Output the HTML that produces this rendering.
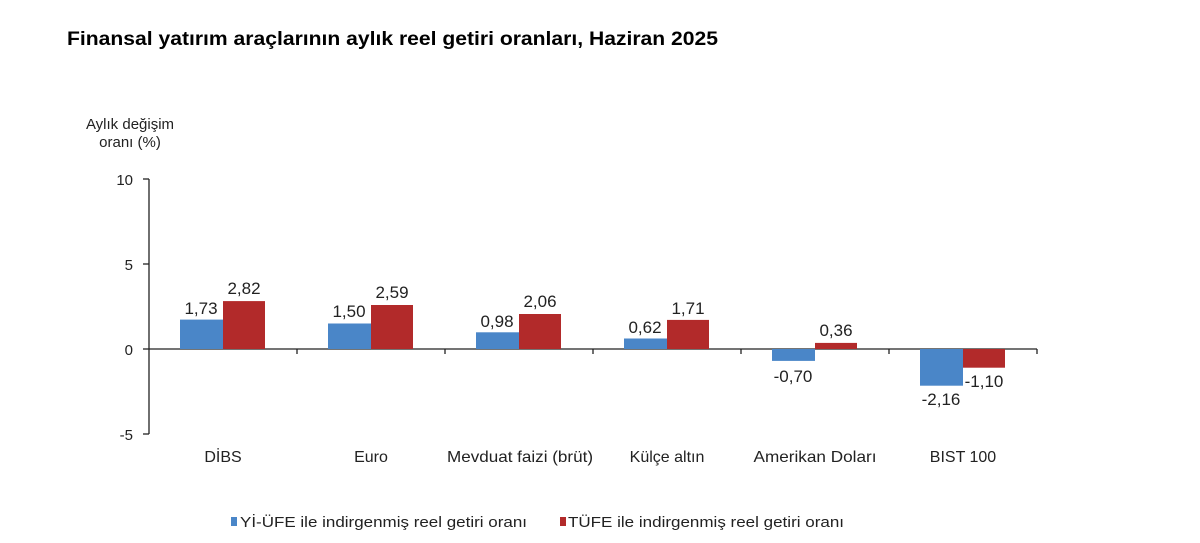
<!DOCTYPE html>
<html><head><meta charset="utf-8"><style>
html,body{margin:0;padding:0;background:#fff;width:1200px;height:543px;overflow:hidden}
svg text{font-family:"Liberation Sans",Arial,sans-serif}
</style></head><body>
<svg width="1200" height="543" xmlns="http://www.w3.org/2000/svg">
<text x="67" y="45" font-size="19" font-weight="bold" fill="#000" textLength="651" lengthAdjust="spacingAndGlyphs">Finansal yatırım araçlarının aylık reel getiri oranları, Haziran 2025</text>
<text x="130" y="129" font-size="15" fill="#222" text-anchor="middle">Aylık değişim</text>
<text x="130" y="147" font-size="15" fill="#222" text-anchor="middle">oranı (%)</text>
<g stroke="#222" stroke-width="1.3" fill="none">
<line x1="149" y1="179" x2="149" y2="434"/>
<line x1="143" y1="179" x2="149" y2="179"/>
<line x1="143" y1="264" x2="149" y2="264"/>
<line x1="143" y1="349" x2="149" y2="349"/>
<line x1="143" y1="434" x2="149" y2="434"/>
<line x1="149" y1="349" x2="1037" y2="349"/>
<line x1="297" y1="349" x2="297" y2="354"/>
<line x1="445" y1="349" x2="445" y2="354"/>
<line x1="593" y1="349" x2="593" y2="354"/>
<line x1="741" y1="349" x2="741" y2="354"/>
<line x1="889" y1="349" x2="889" y2="354"/>
<line x1="1037" y1="349" x2="1037" y2="354"/>
</g>
<g font-size="15" fill="#222" text-anchor="end">
<text x="133" y="185">10</text><text x="133" y="270">5</text><text x="133" y="355">0</text><text x="133" y="440">-5</text>
</g>
<g fill="#4a86c8">
<rect x="180" y="319.6" width="43" height="29.4"/>
<rect x="328" y="323.5" width="43" height="25.5"/>
<rect x="476" y="332.3" width="43" height="16.7"/>
<rect x="624" y="338.5" width="43" height="10.5"/>
<rect x="772" y="349" width="43" height="11.9"/>
<rect x="920" y="349" width="43" height="36.7"/>
</g>
<g fill="#b22a2a">
<rect x="223" y="301.1" width="42" height="47.9"/>
<rect x="371" y="305" width="42" height="44"/>
<rect x="519" y="314" width="42" height="35"/>
<rect x="667" y="319.9" width="42" height="29.1"/>
<rect x="815" y="342.9" width="42" height="6.1"/>
<rect x="963" y="349" width="42" height="18.7"/>
</g>
<g font-size="17" fill="#222" text-anchor="middle">
<text x="201" y="314">1,73</text><text x="244" y="294">2,82</text>
<text x="349" y="317">1,50</text><text x="392" y="298">2,59</text>
<text x="497" y="327">0,98</text><text x="540" y="307">2,06</text>
<text x="645" y="333">0,62</text><text x="688" y="314">1,71</text>
<text x="793" y="382">-0,70</text><text x="836" y="336">0,36</text>
<text x="941" y="405">-2,16</text><text x="984" y="387">-1,10</text>
</g>
<g font-size="16" fill="#222" text-anchor="middle">
<text x="223" y="462">DİBS</text>
<text x="371" y="462">Euro</text>
<text x="520" y="462" textLength="146" lengthAdjust="spacingAndGlyphs">Mevduat faizi (brüt)</text>
<text x="667" y="462">Külçe altın</text>
<text x="815" y="462" textLength="123" lengthAdjust="spacingAndGlyphs">Amerikan Doları</text>
<text x="963" y="462">BIST 100</text>
</g>
<rect x="231" y="517" width="6" height="9" fill="#4a86c8"/>
<text x="240" y="527" font-size="15" fill="#222" textLength="287" lengthAdjust="spacingAndGlyphs">Yİ-ÜFE ile indirgenmiş reel getiri oranı</text>
<rect x="560" y="517" width="6" height="9" fill="#b22a2a"/>
<text x="568" y="527" font-size="15" fill="#222" textLength="276" lengthAdjust="spacingAndGlyphs">TÜFE ile indirgenmiş reel getiri oranı</text>
</svg>
</body></html>
